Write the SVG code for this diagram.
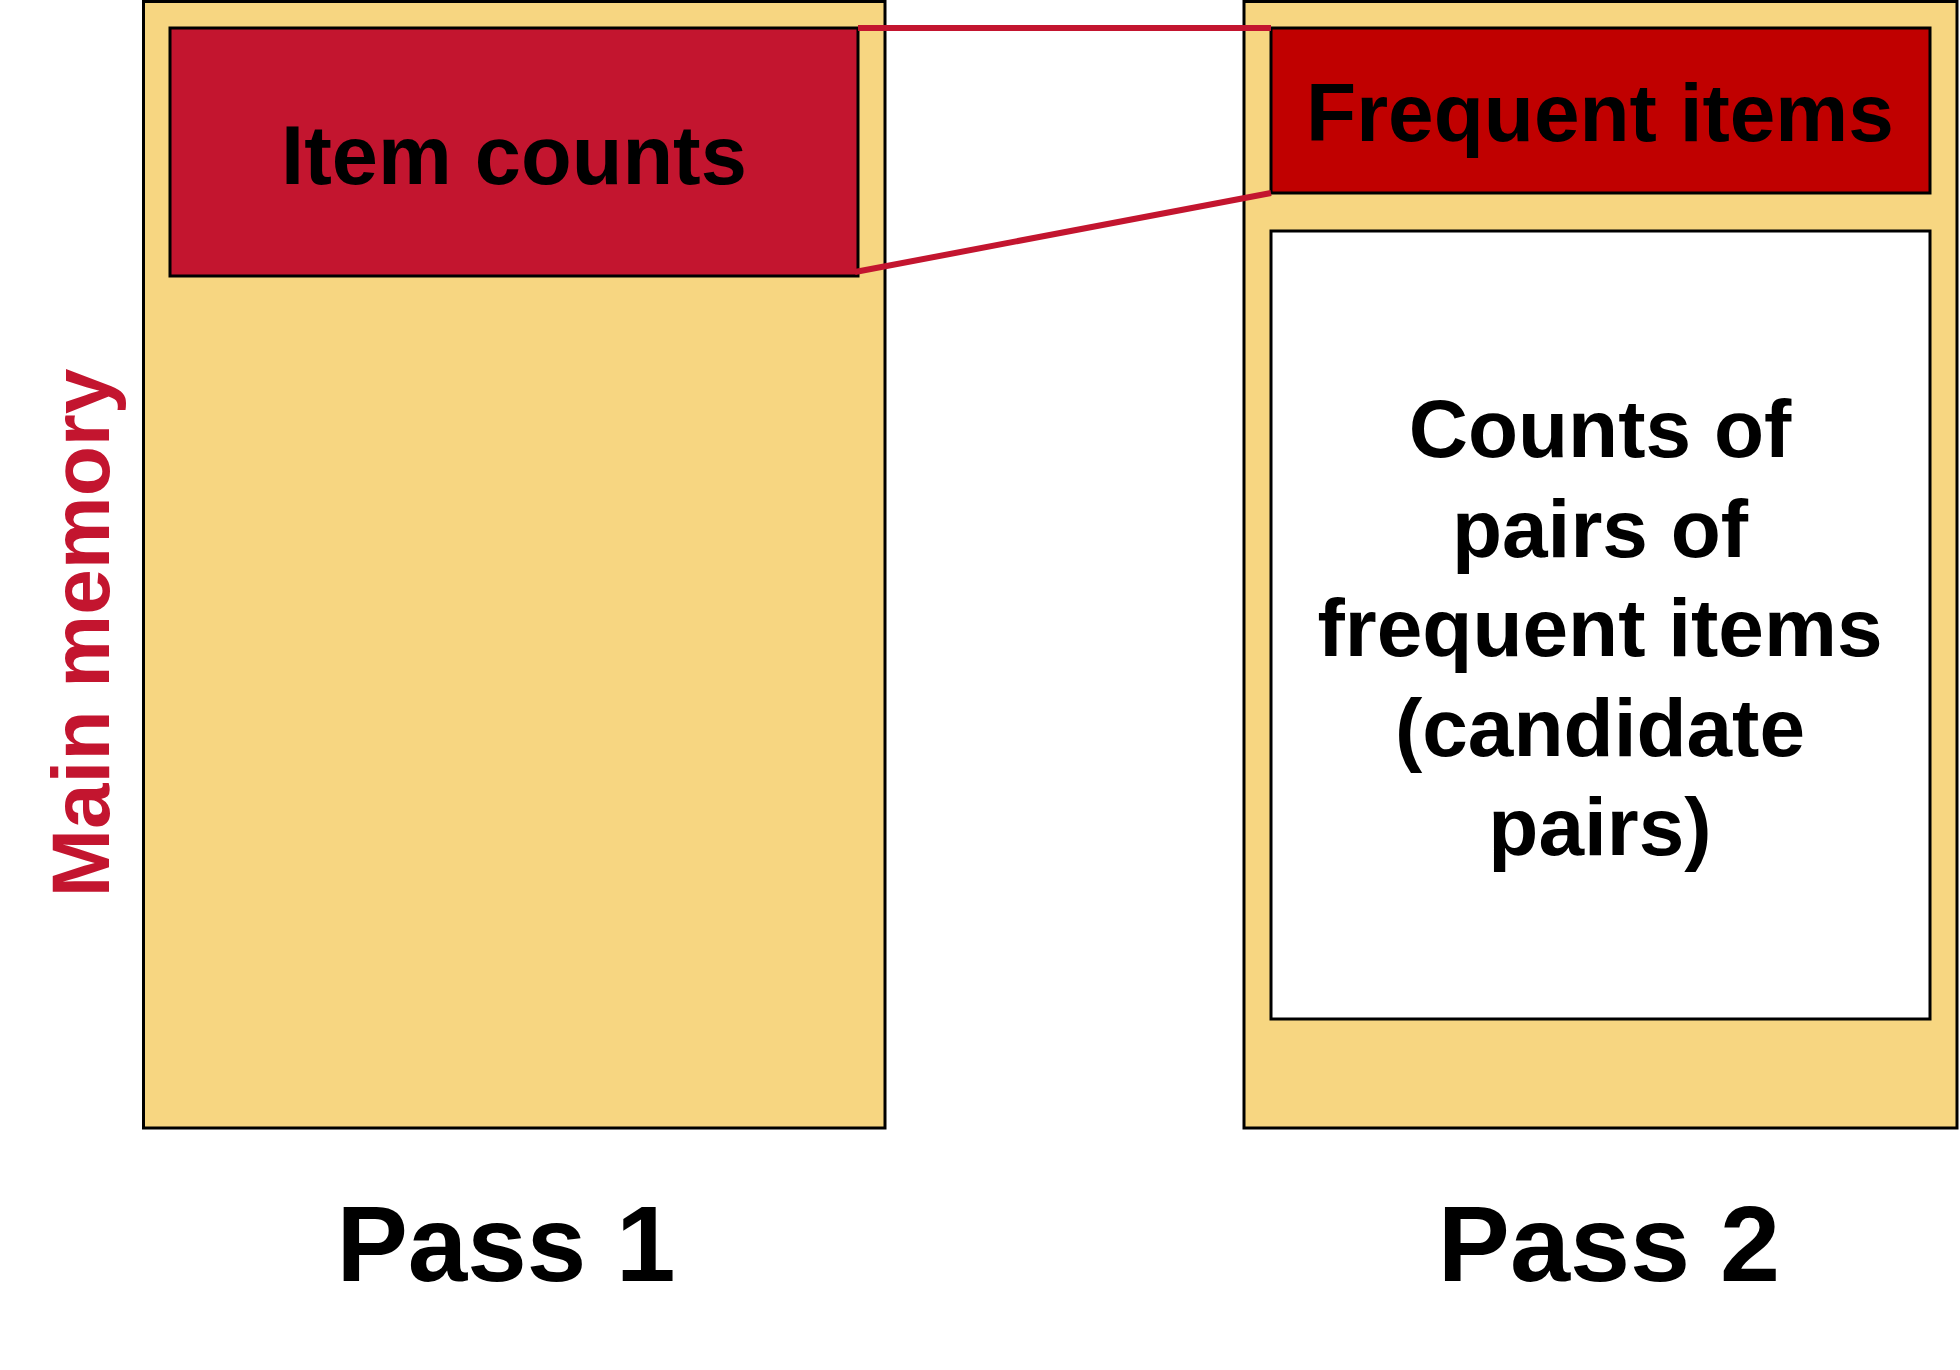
<svg xmlns="http://www.w3.org/2000/svg" width="1960" height="1370" viewBox="0 0 1960 1370">
<style>
.box{stroke:#000;stroke-width:3}
.mem{fill:#F7D681}
.t{font-family:"Liberation Sans",Arial,sans-serif;font-weight:bold;fill:#000;text-anchor:middle}
.conn{stroke:#C3152F;stroke-width:6;fill:none}
</style>
<rect width="1960" height="1370" fill="#fff"/>
<g id="pass1">
<rect class="box mem" x="143.5" y="1.5" width="741.5" height="1126.5"/>
</g>
<g id="pass2">
<rect class="box mem" x="1244" y="1.5" width="713" height="1126.5"/>
</g>
<g id="item-counts">
<rect class="box" x="170" y="28" width="688" height="248" fill="#C3152F"/>
<text class="t" x="514" y="184" font-size="83">Item counts</text>
</g>
<g id="frequent-items">
<rect class="box" x="1271" y="28" width="659" height="165" fill="#C00000"/>
<text class="t" x="1600" y="141" font-size="82">Frequent items</text>
</g>
<g id="candidate-pairs">
<rect class="box" x="1271" y="231" width="659" height="788" fill="#fff"/>
<text class="t" font-size="82"><tspan x="1600" y="457">Counts of</tspan><tspan x="1600" y="557">pairs of</tspan><tspan x="1600" y="656">frequent items</tspan><tspan x="1600" y="756">(candidate</tspan><tspan x="1600" y="855">pairs)</tspan></text>
</g>
<g id="connectors">
<line class="conn" x1="858" y1="28" x2="1271" y2="28"/>
<line class="conn" x1="855" y1="272" x2="1271" y2="193"/>
</g>
<g id="labels">
<text class="t" x="506" y="1281" font-size="107">Pass 1</text>
<text class="t" x="1609" y="1281" font-size="108">Pass 2</text>
<text class="t" transform="translate(109,633) rotate(-90)" font-size="82" style="fill:#C3152F">Main memory</text>
</g>
</svg>
